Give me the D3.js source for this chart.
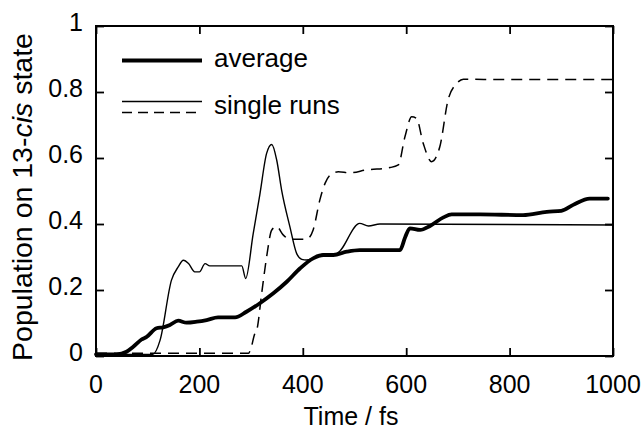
<!DOCTYPE html>
<html>
<head>
<meta charset="utf-8">
<script src="https://cdn.jsdelivr.net/npm/d3@7"></script>
<style>
  html, body { margin: 0; padding: 0; background: #fff; }
  svg { display: block; }
  text { font-family: "Liberation Sans", Arial, Helvetica, sans-serif; fill: #000; }
</style>
</head>
<body>
<svg id="chart" width="643" height="430"></svg>
<script>
// ---- data ----
const xTicks = [0, 200, 400, 600, 800, 1000];
const yTicks = [0, 0.2, 0.4, 0.6, 0.8, 1];
const yTickLabels = ["0", "0.2", "0.4", "0.6", "0.8", "1"];

const avgTime = [0, 40, 59, 72, 88, 98, 117, 130, 143, 159, 175, 195, 214, 236, 269, 291, 317, 343, 369, 395, 420, 440, 459, 485, 510, 588, 598, 607, 627, 646, 672, 688, 743, 826, 872, 900, 923, 955, 990];
const avgPop  = [0.005, 0.005, 0.013, 0.028, 0.05, 0.058, 0.084, 0.087, 0.094, 0.107, 0.101, 0.104, 0.109, 0.117, 0.117, 0.134, 0.16, 0.19, 0.225, 0.266, 0.296, 0.306, 0.306, 0.316, 0.321, 0.321, 0.36, 0.387, 0.382, 0.394, 0.42, 0.429, 0.429, 0.427, 0.437, 0.44, 0.458, 0.477, 0.477];

const run1Time = [0, 110, 124, 146, 159, 169, 179, 191, 200, 211, 220, 282, 289.5, 304, 317, 330, 340, 349.5, 359, 375, 388, 398, 407.5, 420, 440, 465, 510, 527, 549, 1000];
const run1Pop  = [0.005, 0.005, 0.048, 0.23, 0.27, 0.29, 0.28, 0.255, 0.255, 0.28, 0.273, 0.273, 0.235, 0.37, 0.49, 0.614, 0.641, 0.594, 0.503, 0.392, 0.311, 0.293, 0.291, 0.296, 0.309, 0.311, 0.402, 0.394, 0.40, 0.397];

const run2Time = [0, 295, 299, 307.5, 311, 320.5, 330, 340, 349.5, 362, 375, 407.5, 420, 433, 443, 452.6, 468.7, 491, 523.6, 568.7, 584.7, 597.7, 610.6, 620, 633, 649, 665, 681, 697.7, 710.6, 750, 1000];
const run2Pop  = [0.008, 0.008, 0.02, 0.069, 0.079, 0.19, 0.30, 0.382, 0.392, 0.367, 0.354, 0.354, 0.382, 0.473, 0.523, 0.548, 0.558, 0.555, 0.564, 0.571, 0.579, 0.665, 0.725, 0.72, 0.644, 0.589, 0.634, 0.776, 0.826, 0.839, 0.838, 0.838];

const legendLabels = ["average", "single runs"];

// ---- layout ----
const svg = d3.select("#chart");
const L = 96, R = 613, T = 26, B = 356;
const x = d3.scaleLinear().domain([0, 1000]).range([L, R]);
const y = d3.scaleLinear().domain([0, 1]).range([B, T]);

const line = d3.line().x(d => x(d[0])).y(d => y(d[1])).curve(d3.curveMonotoneX);
const zip = (a, b) => a.map((v, i) => [v, b[i]]);

// curves
svg.append("path").datum(zip(run2Time, run2Pop)).attr("d", line)
  .attr("fill", "none").attr("stroke", "#000").attr("stroke-width", 1.5)
  .attr("stroke-dasharray", "11,7");
svg.append("path").datum(zip(run1Time, run1Pop)).attr("d", line)
  .attr("fill", "none").attr("stroke", "#000").attr("stroke-width", 1.4);
svg.append("path").datum(zip(avgTime, avgPop)).attr("d", line)
  .attr("fill", "none").attr("stroke", "#000").attr("stroke-width", 3.8)
  .attr("stroke-linejoin", "round").attr("stroke-linecap", "round");

// axes (inside ticks, mirrored)
const tickLen = 8;
svg.append("g").attr("transform", `translate(0,${B})`)
  .call(d3.axisBottom(x).tickValues(xTicks).tickSize(-tickLen).tickFormat(""))
  .call(g => g.select(".domain").remove());
svg.append("g").attr("transform", `translate(0,${T})`)
  .call(d3.axisTop(x).tickValues(xTicks).tickSize(-tickLen).tickFormat(""))
  .call(g => g.select(".domain").remove());
svg.append("g").attr("transform", `translate(${L},0)`)
  .call(d3.axisLeft(y).tickValues(yTicks).tickSize(-tickLen).tickFormat(""))
  .call(g => g.select(".domain").remove());
svg.append("g").attr("transform", `translate(${R},0)`)
  .call(d3.axisRight(y).tickValues(yTicks).tickSize(-tickLen).tickFormat(""))
  .call(g => g.select(".domain").remove());
svg.selectAll(".tick line").attr("stroke", "#000").attr("stroke-width", 1.8);

// frame
svg.append("rect").attr("x", L).attr("y", T).attr("width", R - L).attr("height", B - T)
  .attr("fill", "none").attr("stroke", "#000").attr("stroke-width", 2);

// tick labels
svg.append("g").selectAll("text").data(xTicks).join("text")
  .attr("x", d => x(d)).attr("y", 393).attr("text-anchor", "middle")
  .attr("font-size", 25).text(d => d);
svg.append("g").selectAll("text").data(yTicks).join("text")
  .attr("x", 83).attr("y", d => y(d) + 5).attr("text-anchor", "end")
  .attr("font-size", 25).text((d, i) => yTickLabels[i]);

// axis titles
svg.append("text").attr("x", 351).attr("y", 425).attr("text-anchor", "middle")
  .attr("font-size", 25).text("Time / fs");
const yt = svg.append("text").attr("transform", "translate(32,197) rotate(-90)")
  .attr("text-anchor", "middle").attr("font-size", 28.5);
yt.append("tspan").text("Population on 13-");
yt.append("tspan").attr("font-style", "italic").text("cis");
yt.append("tspan").text(" state");

// legend
svg.append("line").attr("x1", 122).attr("x2", 202).attr("y1", 60.5).attr("y2", 60.5)
  .attr("stroke", "#000").attr("stroke-width", 3.8);
svg.append("text").attr("x", 214).attr("y", 67).attr("font-size", 26).text(legendLabels[0]);
svg.append("line").attr("x1", 122).attr("x2", 202).attr("y1", 101.5).attr("y2", 101.5)
  .attr("stroke", "#000").attr("stroke-width", 1.4);
svg.append("line").attr("x1", 122).attr("x2", 202).attr("y1", 112.5).attr("y2", 112.5)
  .attr("stroke", "#000").attr("stroke-width", 1.5).attr("stroke-dasharray", "10,6");
svg.append("text").attr("x", 214).attr("y", 114).attr("font-size", 26).text(legendLabels[1]);
</script>
</body>
</html>
